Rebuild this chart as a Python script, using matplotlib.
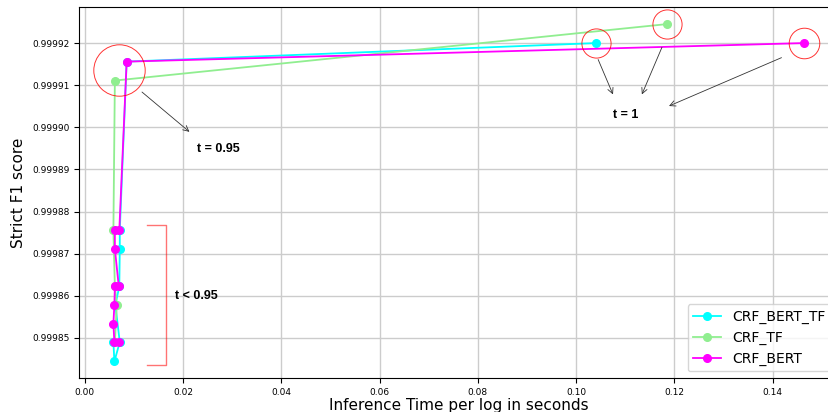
import matplotlib
matplotlib.use("Agg")
from matplotlib import pyplot as plt
from matplotlib.ticker import ScalarFormatter

# inference time per log (s) and strict F1 for each model, t = 1 first
bert_tf_time = [0.1040, 0.0085, 0.0071, 0.0071, 0.0070, 0.0062, 0.0071, 0.0060, 0.0058]
bert_tf_f1 = [0.9999200, 0.9999156, 0.9998755, 0.9998711, 0.9998622, 0.9998578,
              0.9998490, 0.9998444, 0.9998490]

tf_time = [0.1184, 0.0061, 0.0058, 0.0061, 0.0065, 0.0061]
tf_f1 = [0.9999245, 0.9999111, 0.9998755, 0.9998622, 0.9998578, 0.9998490]

bert_time = [0.1463, 0.0085, 0.0070, 0.0061, 0.0061, 0.0069, 0.0061, 0.0060,
             0.0058, 0.0060, 0.0070]
bert_f1 = [0.9999200, 0.9999156, 0.9998755, 0.9998755, 0.9998711, 0.9998622,
           0.9998622, 0.9998578, 0.9998534, 0.9998490, 0.9998490]

yticks = [0.99985, 0.99986, 0.99987, 0.99988, 0.99989, 0.99990, 0.99991, 0.99992]
xticks = [0.00, 0.02, 0.04, 0.06, 0.08, 0.10, 0.12, 0.14]

ann_font = dict(family="Liberation Sans", fontweight="bold", fontsize=9)

fig = plt.figure(figsize=(8.29, 4.12), dpi=100)
ax = fig.add_axes([0.0953, 0.0818, 0.9156, 0.9005])

ax.plot(bert_tf_time, bert_tf_f1, "-o", color="cyan", lw=1.3, ms=5.5, label="CRF_BERT_TF")
ax.plot(tf_time, tf_f1, "-o", color="lightgreen", lw=1.3, ms=5.5, label="CRF_TF")
ax.plot(bert_time, bert_f1, "-o", color="magenta", lw=1.3, ms=5.5, label="CRF_BERT")

# red rings around the threshold points
ax.plot([0.00696], [0.9999135], "o", ms=37, mfc="none", mec="red", mew=0.7, alpha=0.8)
ax.plot([bert_tf_time[0]], [bert_tf_f1[0]], "o", ms=21, mfc="none", mec="red", mew=0.7, alpha=0.8)
ax.plot([tf_time[0]], [tf_f1[0]], "o", ms=21, mfc="none", mec="red", mew=0.7, alpha=0.8)
ax.plot([bert_time[0]], [bert_f1[0]], "o", ms=22, mfc="none", mec="red", mew=0.7, alpha=0.8)

arrow = dict(arrowstyle="->", color="#333333", lw=0.6)
ax.annotate("", xy=(0.02171, 0.9998985), xytext=(0.01119, 0.9999088), arrowprops=arrow)
ax.text(0.02285, 0.9998948, "t = 0.95", va="center", ha="left", **ann_font)

ax.annotate("", xy=(0.10771, 0.9999072), xytext=(0.10425, 0.9999167), arrowprops=arrow)
ax.annotate("", xy=(0.11315, 0.9999072), xytext=(0.11768, 0.9999196), arrowprops=arrow)
ax.annotate("", xy=(0.11838, 0.9999048), xytext=(0.14231, 0.9999168), arrowprops=arrow)
ax.text(0.1100, 0.9999030, "t = 1", va="center", ha="center", **ann_font)

# bracket around the low threshold cluster
ax.plot([0.01256, 0.01648, 0.01648, 0.01256],
        [0.9998769, 0.9998769, 0.9998436, 0.9998436],
        color="red", lw=1.0, alpha=0.55)
ax.text(0.01832, 0.9998599, "t < 0.95", va="center", ha="left", **ann_font)

ax.set_xlim(-0.0012, 0.1533)
ax.set_ylim(0.9998404, 0.9999285)
ax.set_xticks(xticks)
ax.set_yticks(yticks)
fmt = ScalarFormatter(useOffset=False)
ax.yaxis.set_major_formatter(fmt)
ax.xaxis.set_major_formatter(plt.FormatStrFormatter("%.2f"))
ax.tick_params(labelsize=6.5)
ax.grid(True, color="#cccccc", lw=1.0)

ax.set_xlabel("Inference Time per log in seconds", fontsize=11, labelpad=1)
ax.set_ylabel("Strict F1 score", fontsize=11)
ax.legend(loc="lower right", fontsize=10)

fig.savefig("out.png", dpi=100)
